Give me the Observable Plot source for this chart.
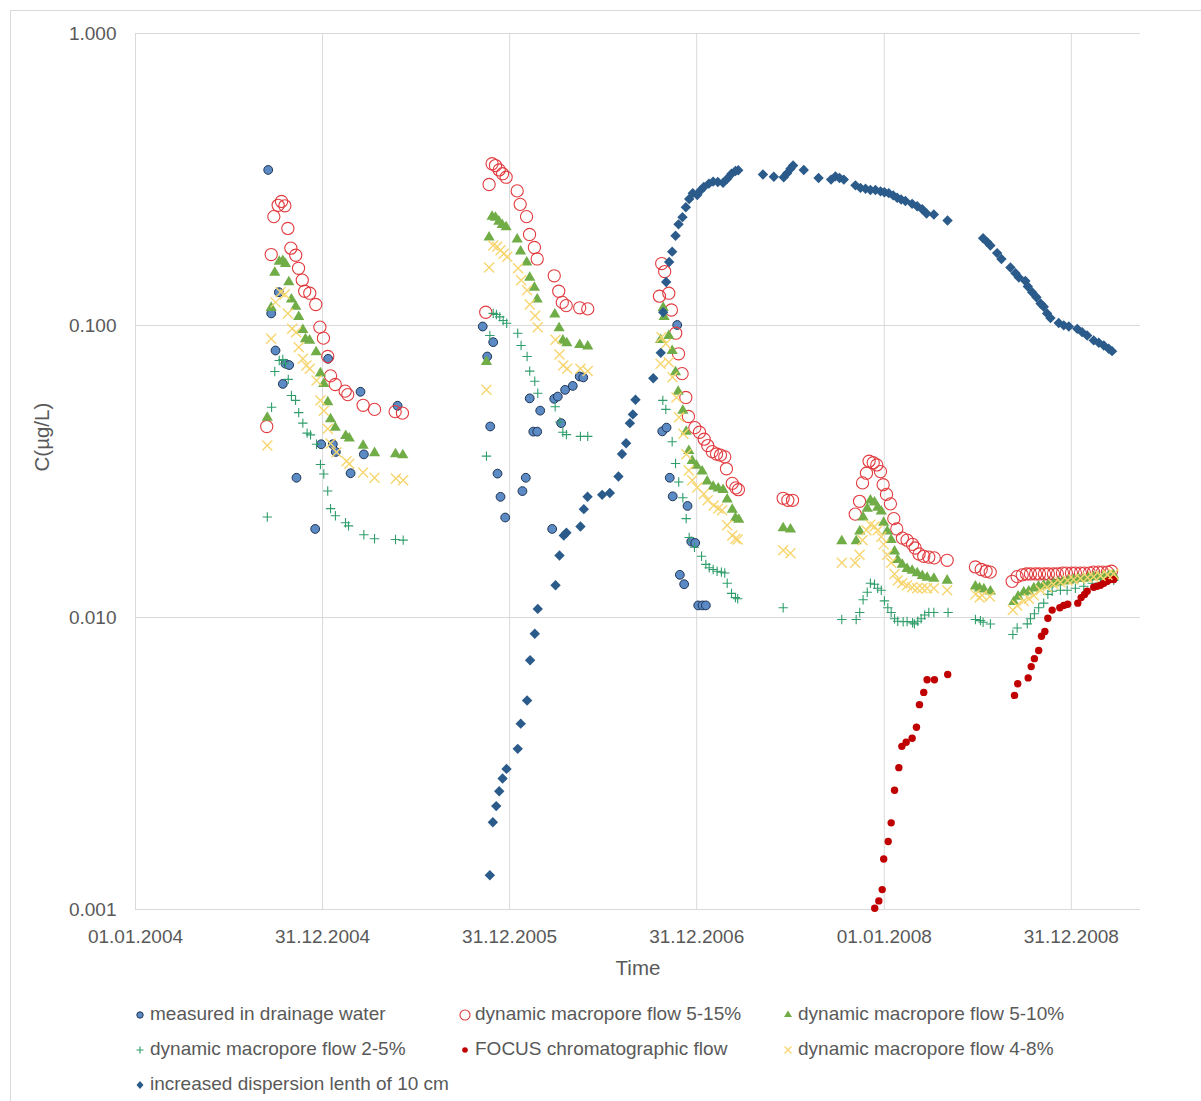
<!DOCTYPE html>
<html>
<head>
<meta charset="utf-8">
<script src="https://cdn.jsdelivr.net/npm/d3@7"></script>
<script src="https://cdn.jsdelivr.net/npm/@observablehq/plot@0.6"></script>
<style>
  body { margin: 0; background: #fff; }
  #wrap { position: relative; width: 1201px; height: 1101px; overflow: hidden; font-family: "Liberation Sans", Arial, sans-serif; color: #595959; }
  #frame { position: absolute; left: 10px; top: 10px; width: 1250px; height: 1200px; border: 1px solid #d9d9d9; box-sizing: border-box; }
  #chart { position: absolute; left: 0; top: 0; }
  .leg { position: absolute; font-size: 19px; line-height: 20px; white-space: nowrap; }
  .leg svg { position: absolute; left: -16px; top: 2px; }
</style>
</head>
<body>
<div id="wrap">
  <div id="frame"></div>
  <div id="chart"></div>
  <div id="legend"></div>
</div>
<script>
// ---- data: [decimal year, concentration µg/L] ----
const measured = [
[2004.709,0.341],[2004.725,0.110],[2004.748,0.0821],[2004.766,0.130],[2004.787,0.0631],[2004.801,0.0740],[2004.821,0.0732],[2004.860,0.0301],[2004.960,0.0201],[2004.992,0.0392],[2005.029,0.0769],[2005.054,0.0392],[2005.070,0.0369],[2005.149,0.0312],[2005.202,0.0593],[2005.220,0.0362],[2005.400,0.0531],
[2005.855,0.0992],[2005.879,0.0783],[2005.895,0.0451],[2005.911,0.0877],[2005.934,0.0311],[2005.950,0.0259],[2005.975,0.0220],[2006.067,0.0271],[2006.085,0.0301],[2006.106,0.0563],[2006.125,0.0433],[2006.146,0.0433],[2006.162,0.0511],[2006.226,0.0201],[2006.237,0.0561],[2006.256,0.0571],[2006.274,0.0463],[2006.295,0.0602],[2006.336,0.0621],[2006.373,0.0669],[2006.392,0.0664],
[2006.814,0.0434],[2006.837,0.0447],[2006.854,0.0301],[2006.870,0.0260],[2006.894,0.1004],[2006.908,0.0140],[2006.931,0.0130],[2006.949,0.0241],[2006.969,0.0182],[2006.990,0.0180],[2007.006,0.0110],[2007.029,0.0110],[2007.047,0.0110]
];
const flow515 = [
[2004.701,0.0451],[2004.725,0.175],[2004.739,0.236],[2004.762,0.258],[2004.780,0.266],[2004.798,0.257],[2004.814,0.215],[2004.830,0.184],[2004.856,0.174],[2004.871,0.157],[2004.891,0.143],[2004.904,0.131],[2004.931,0.129],[2004.963,0.118],[2004.985,0.0987],[2005.004,0.0905],[2005.027,0.0783],[2005.042,0.0672],[2005.067,0.0628],[2005.120,0.0596],[2005.134,0.0580],[2005.216,0.0533],[2005.277,0.0516],[2005.387,0.0507],[2005.426,0.0501],
[2005.871,0.111],[2005.889,0.304],[2005.905,0.358],[2005.923,0.353],[2005.943,0.341],[2005.961,0.331],[2005.980,0.322],[2006.039,0.289],[2006.055,0.260],[2006.089,0.236],[2006.105,0.205],[2006.131,0.185],[2006.146,0.169],[2006.237,0.148],[2006.261,0.131],[2006.280,0.120],[2006.301,0.117],[2006.373,0.115],[2006.416,0.114],
[2006.799,0.126],[2006.811,0.163],[2006.827,0.153],[2006.849,0.129],[2006.863,0.113],[2006.886,0.0941],[2006.901,0.0800],[2006.920,0.0684],[2006.940,0.0567],[2006.954,0.0488],[2006.988,0.0447],[2007.013,0.0431],[2007.038,0.0408],[2007.057,0.0388],[2007.081,0.0370],[2007.104,0.0363],[2007.125,0.0360],[2007.148,0.0355],[2007.157,0.0323],[2007.188,0.0288],[2007.207,0.0278],[2007.221,0.0274],
[2007.460,0.0256],[2007.485,0.0252],[2007.510,0.0252],
[2007.845,0.0226],[2007.868,0.0250],[2007.884,0.0289],[2007.905,0.0312],[2007.919,0.0343],[2007.941,0.0339],[2007.960,0.0333],[2007.980,0.0316],[2007.994,0.0285],[2008.012,0.0264],[2008.033,0.0245],[2008.051,0.0218],[2008.067,0.0201],[2008.097,0.0187],[2008.122,0.0184],[2008.151,0.0178],[2008.165,0.0173],[2008.186,0.0165],[2008.211,0.0162],[2008.238,0.0161],[2008.267,0.0160],[2008.336,0.0157],
[2008.487,0.0149],[2008.518,0.0146],[2008.544,0.0144],[2008.566,0.0143],
[2008.683,0.0133],[2008.710,0.0138],[2008.737,0.0140],[2008.760,0.0141],[2008.781,0.0141],[2008.808,0.0141],[2008.829,0.0141],[2008.856,0.0141],[2008.877,0.0141],[2008.904,0.0141],[2008.925,0.0141],[2008.952,0.0142],[2008.973,0.0142],[2009.000,0.0142],[2009.021,0.0142],[2009.048,0.0142],[2009.070,0.0142],[2009.096,0.0142],[2009.118,0.0143],[2009.144,0.0143],[2009.166,0.0143],[2009.192,0.0143],[2009.214,0.0144]
];
const flow510 = [
[2004.704,0.0488],[2004.725,0.116],[2004.744,0.153],[2004.768,0.167],[2004.787,0.168],[2004.801,0.164],[2004.819,0.142],[2004.833,0.124],[2004.856,0.117],[2004.872,0.108],[2004.894,0.0974],[2004.908,0.0905],[2004.930,0.0896],[2004.965,0.0817],[2004.988,0.0692],[2005.006,0.0636],[2005.027,0.0551],[2005.042,0.0482],[2005.067,0.0451],[2005.123,0.0422],[2005.142,0.0414],[2005.216,0.0391],[2005.277,0.0369],[2005.389,0.0366],[2005.428,0.0363],
[2005.875,0.0757],[2005.889,0.202],[2005.905,0.238],[2005.923,0.236],[2005.941,0.229],[2005.959,0.223],[2005.980,0.219],[2006.039,0.199],[2006.057,0.181],[2006.090,0.166],[2006.106,0.147],[2006.131,0.136],[2006.146,0.124],[2006.240,0.110],[2006.263,0.0987],[2006.283,0.0896],[2006.304,0.0877],[2006.373,0.0866],[2006.416,0.0856],
[2006.805,0.0900],[2006.819,0.116],[2006.824,0.108],[2006.849,0.0929],[2006.867,0.0826],[2006.885,0.0698],[2006.899,0.0599],[2006.924,0.0515],[2006.942,0.0437],[2006.956,0.0375],[2006.974,0.0347],[2006.997,0.0334],[2007.027,0.0319],[2007.054,0.0295],[2007.086,0.0283],[2007.113,0.0279],[2007.139,0.0276],[2007.161,0.0256],[2007.188,0.0236],[2007.205,0.0221],[2007.223,0.0218],
[2007.460,0.0204],[2007.499,0.0202],
[2007.773,0.0184],[2007.850,0.0184],[2007.869,0.0199],[2007.887,0.0222],[2007.909,0.0238],[2007.926,0.0254],[2007.948,0.0250],[2007.965,0.0240],[2007.984,0.0233],[2007.997,0.0213],[2008.016,0.0199],[2008.037,0.0186],[2008.055,0.0170],[2008.071,0.0159],[2008.096,0.0153],[2008.122,0.0148],[2008.149,0.0146],[2008.176,0.0143],[2008.203,0.0140],[2008.229,0.0138],[2008.265,0.0137],[2008.336,0.0135],
[2008.487,0.0129],[2008.509,0.0127],[2008.532,0.0126],[2008.567,0.0124],
[2008.692,0.0114],[2008.715,0.0119],[2008.745,0.0123],[2008.772,0.0124],[2008.799,0.0127],[2008.824,0.0129],[2008.851,0.0130],[2008.877,0.0131],[2008.904,0.0132],[2008.931,0.0133],[2008.957,0.0134],[2008.984,0.0135],[2009.011,0.0136],[2009.037,0.0137],[2009.064,0.0137],[2009.091,0.0138],[2009.118,0.0139],[2009.144,0.0139],[2009.171,0.0140],[2009.198,0.0140],[2009.225,0.0141]
];
const flow25 = [
[2004.704,0.0221],[2004.727,0.0525],[2004.744,0.0696],[2004.768,0.0759],[2004.787,0.0765],[2004.801,0.0740],[2004.816,0.0654],[2004.833,0.0576],[2004.855,0.0554],[2004.872,0.0503],[2004.894,0.0463],[2004.917,0.0428],[2004.935,0.0422],[2004.967,0.0392],[2004.988,0.0334],[2005.006,0.0310],[2005.027,0.0271],[2005.042,0.0236],[2005.068,0.0223],[2005.122,0.0211],[2005.138,0.0206],[2005.220,0.0192],[2005.277,0.0186],[2005.389,0.0185],[2005.430,0.0184],
[2005.875,0.0357],[2005.893,0.0924],[2005.911,0.110],[2005.928,0.109],[2005.946,0.107],[2005.964,0.104],[2005.983,0.1018],[2006.042,0.0941],[2006.060,0.0854],[2006.092,0.0783],[2006.106,0.0698],[2006.133,0.0644],[2006.149,0.0586],[2006.242,0.0527],[2006.267,0.0467],[2006.283,0.0431],[2006.302,0.0423],[2006.377,0.0417],[2006.416,0.0417],
[2006.817,0.0554],[2006.833,0.0516],[2006.867,0.0400],[2006.885,0.0337],[2006.902,0.0291],[2006.924,0.0257],[2006.942,0.0218],[2006.958,0.0188],[2006.986,0.0174],[2007.024,0.0162],[2007.047,0.0152],[2007.065,0.0148],[2007.086,0.0146],[2007.107,0.0144],[2007.130,0.0143],[2007.148,0.0142],[2007.161,0.0131],[2007.184,0.0121],[2007.205,0.0117],[2007.217,0.0116],
[2007.460,0.0108],
[2007.773,0.00984],[2007.850,0.00984],[2007.869,0.0104],[2007.887,0.0115],[2007.909,0.0122],[2007.926,0.0131],[2007.948,0.0130],[2007.965,0.0126],[2007.984,0.0124],[2008.001,0.0114],[2008.019,0.0108],[2008.037,0.0104],[2008.055,0.00990],[2008.072,0.00971],[2008.101,0.00967],[2008.122,0.00969],[2008.151,0.00959],[2008.161,0.00951],[2008.179,0.00971],[2008.197,0.00990],[2008.216,0.0102],[2008.238,0.0104],[2008.265,0.0104],[2008.341,0.0104],
[2008.487,0.00984],[2008.514,0.00976],[2008.528,0.00963],[2008.567,0.00950],
[2008.687,0.00875],[2008.710,0.00921],[2008.764,0.00951],[2008.781,0.00990],[2008.802,0.0103],[2008.825,0.0108],[2008.852,0.0112],[2008.874,0.0120],[2008.897,0.0123],[2008.941,0.0124],[2008.977,0.0124],[2009.021,0.0126],[2009.066,0.0128],[2009.111,0.0131],[2009.155,0.0131],[2009.199,0.0134],[2009.226,0.0134]
];
const focus = [
[2007.949,0.00101],[2007.971,0.00107],[2007.989,0.00117],[2007.997,0.00149],[2008.021,0.00171],[2008.037,0.00198],[2008.055,0.00256],[2008.078,0.00306],[2008.094,0.00362],[2008.117,0.00374],[2008.149,0.00386],[2008.172,0.00421],[2008.188,0.00503],[2008.211,0.00554],[2008.229,0.00612],[2008.268,0.00612],[2008.339,0.00638],
[2008.696,0.00541],[2008.713,0.00593],[2008.769,0.00621],[2008.785,0.00679],[2008.802,0.00723],[2008.825,0.00771],[2008.840,0.00863],[2008.858,0.00896],[2008.874,0.00994],[2008.897,0.0106],[2008.938,0.0108],[2008.959,0.0110],[2008.980,0.0111],[2009.034,0.0112],[2009.052,0.0117],[2009.070,0.0120],[2009.084,0.0123],[2009.119,0.0127],[2009.137,0.0128],[2009.155,0.0129],[2009.173,0.0131],[2009.191,0.0133],[2009.208,0.0135],[2009.226,0.0135]
];
const flow48 = [
[2004.704,0.0388],[2004.725,0.0900],[2004.748,0.120],[2004.775,0.130],[2004.798,0.128],[2004.814,0.110],[2004.837,0.0974],[2004.858,0.0949],[2004.872,0.0843],[2004.894,0.0769],[2004.913,0.0730],[2004.931,0.0711],[2004.967,0.0648],[2004.988,0.0554],[2005.006,0.0511],[2005.027,0.0443],[2005.042,0.0394],[2005.074,0.0368],[2005.127,0.0343],[2005.142,0.0336],[2005.216,0.0314],[2005.277,0.0301],[2005.391,0.0299],[2005.430,0.0295],
[2005.875,0.0602],[2005.889,0.158],[2005.911,0.188],[2005.932,0.186],[2005.950,0.181],[2005.967,0.176],[2005.986,0.172],[2006.044,0.157],[2006.060,0.143],[2006.092,0.132],[2006.106,0.118],[2006.135,0.108],[2006.149,0.0987],[2006.244,0.0894],[2006.265,0.0795],[2006.285,0.0730],[2006.306,0.0711],[2006.377,0.0711],[2006.416,0.0698],
[2006.805,0.0740],[2006.810,0.0912],[2006.833,0.0866],[2006.849,0.0749],[2006.869,0.0665],[2006.890,0.0567],[2006.904,0.0485],[2006.927,0.0426],[2006.943,0.0362],[2006.956,0.0319],[2006.974,0.0295],[2007.001,0.0279],[2007.036,0.0265],[2007.057,0.0252],[2007.089,0.0242],[2007.113,0.0236],[2007.134,0.0233],[2007.161,0.0207],[2007.188,0.0191],[2007.205,0.0186],[2007.217,0.0185],
[2007.460,0.0170],[2007.499,0.0166],
[2007.773,0.0154],[2007.845,0.0154],[2007.868,0.0164],[2007.884,0.0184],[2007.905,0.0199],[2007.926,0.0208],[2007.948,0.0205],[2007.965,0.0199],[2007.984,0.0189],[2007.997,0.0178],[2008.016,0.0164],[2008.037,0.0154],[2008.055,0.0141],[2008.072,0.0134],[2008.096,0.0131],[2008.122,0.0129],[2008.149,0.0127],[2008.176,0.0126],[2008.203,0.0126],[2008.229,0.0126],[2008.265,0.0126],[2008.336,0.0124],
[2008.487,0.0120],[2008.509,0.0117],[2008.523,0.0119],[2008.564,0.0118],
[2008.687,0.0106],[2008.710,0.0110],[2008.745,0.0114],[2008.772,0.0116],[2008.799,0.0119],[2008.835,0.0124],[2008.870,0.0127],[2008.904,0.0130],[2008.941,0.0132],[2008.979,0.0134],[2009.011,0.0135],[2009.048,0.0136],[2009.086,0.0137],[2009.118,0.0138],[2009.155,0.0139],[2009.192,0.0140],[2009.225,0.0141]
];
const dispersion = [
[2005.893,0.00131],[2005.909,0.00199],[2005.927,0.00226],[2005.943,0.00254],[2005.961,0.00281],[2005.982,0.00303],[2006.042,0.00355],[2006.058,0.00433],[2006.092,0.00520],[2006.108,0.00714],[2006.133,0.00880],[2006.149,0.0107],[2006.244,0.0129],[2006.265,0.0163],[2006.288,0.0191],[2006.302,0.0195],[2006.377,0.0205],[2006.395,0.0235],[2006.415,0.0259],[2006.493,0.0263],[2006.534,0.0267],[2006.580,0.0304],[2006.599,0.0363],[2006.621,0.0395],[2006.641,0.0463],[2006.657,0.0496],[2006.671,0.0557],[2006.766,0.0660],[2006.806,0.0806],[2006.819,0.111],[2006.835,0.141],[2006.851,0.165],[2006.867,0.179],[2006.885,0.203],[2006.901,0.222],[2006.922,0.235],[2006.940,0.254],[2006.958,0.271],[2006.977,0.284],[2007.001,0.280],[2007.018,0.290],[2007.036,0.298],[2007.063,0.306],[2007.086,0.311],[2007.111,0.310],[2007.139,0.308],[2007.161,0.318],[2007.184,0.331],[2007.205,0.338],[2007.220,0.340],
[2007.352,0.329],[2007.410,0.323],[2007.463,0.322],[2007.481,0.332],[2007.499,0.344],[2007.513,0.353],[2007.570,0.341],[2007.649,0.320],[2007.716,0.316],[2007.739,0.324],[2007.761,0.320],[2007.784,0.316],[2007.846,0.302],[2007.873,0.296],[2007.900,0.294],[2007.926,0.291],[2007.953,0.291],[2007.980,0.288],[2008.001,0.286],[2008.024,0.284],[2008.048,0.279],[2008.069,0.274],[2008.090,0.270],[2008.113,0.267],[2008.149,0.261],[2008.176,0.256],[2008.203,0.250],[2008.226,0.242],[2008.265,0.240],[2008.338,0.229],
[2008.528,0.199],[2008.550,0.193],[2008.567,0.188],[2008.603,0.177],[2008.626,0.169],[2008.674,0.158],[2008.701,0.151],[2008.719,0.146],[2008.754,0.142],[2008.767,0.136],[2008.790,0.130],[2008.813,0.125],[2008.835,0.119],[2008.852,0.116],[2008.870,0.110],[2008.888,0.106],[2008.932,0.102],[2008.959,0.1001],[2008.986,0.0992],[2009.031,0.0974],[2009.057,0.0949],[2009.084,0.0924],[2009.119,0.0889],[2009.146,0.0873],[2009.173,0.0854],[2009.199,0.0832],[2009.217,0.0817]
];

const xTickDates = ["2004-01-01","2004-12-31","2005-12-31","2006-12-31","2008-01-01","2008-12-31"];
const xTickLabels = ["01.01.2004","31.12.2004","31.12.2005","31.12.2006","01.01.2008","31.12.2008"];
const yTicks = [0.001, 0.01, 0.1, 1];
const xDomain = ["2004-01-01","2009-05-15"];

const seriesNames = ["measured in drainage water","dynamic macropore flow 5-15%","dynamic macropore flow 5-10%","dynamic macropore flow 2-5%","FOCUS chromatographic flow","dynamic macropore flow 4-8%","increased dispersion lenth of 10 cm"];
const colors = {
  measuredFill: "#5b8ac4", measuredStroke: "#1f3656",
  f515: "#e23b3f", f510: "#70ad47", f25: "#2f9e6b", focus: "#c00000", f48: "#f7d670", disp: "#2b5b8a"
};

// ---- helpers ----
const T0 = Date.UTC(2004, 0, 1);
const toDate = y => new Date(T0 + (y - 2004) * 365.25 * 86400000);
const rows = arr => arr.map(([t, c]) => ({date: toDate(t), c}));
const pd = s => new Date(s + "T00:00:00Z");
const tickDates = xTickDates.map(pd);
const labelMap = new Map(tickDates.map((d, i) => [+d, xTickLabels[i]]));

const rOf = size => Math.sqrt(size / Math.PI);
const symPlus = {draw(ctx, size) { const r = rOf(size); ctx.moveTo(-r, 0); ctx.lineTo(r, 0); ctx.moveTo(0, -r); ctx.lineTo(0, r); }};
const symTimes = {draw(ctx, size) { const r = rOf(size); ctx.moveTo(-r, -r); ctx.lineTo(r, r); ctx.moveTo(-r, r); ctx.lineTo(r, -r); }};
const symTri = {draw(ctx, size) { const r = rOf(size); ctx.moveTo(0, -r * 0.95); ctx.lineTo(r, r * 0.75); ctx.lineTo(-r, r * 0.75); ctx.closePath(); }};
const symDiamond = {draw(ctx, size) { const r = rOf(size); ctx.moveTo(0, -r); ctx.lineTo(r, 0); ctx.lineTo(0, r); ctx.lineTo(-r, 0); ctx.closePath(); }};

const font = '"Liberation Sans", Arial, sans-serif';

const chart = Plot.plot({
  width: 1201,
  height: 990,
  marginLeft: 135,
  marginRight: 61,
  marginTop: 33,
  marginBottom: 81,
  style: {fontFamily: font, fontSize: "19px", color: "#595959", background: "transparent", overflow: "visible"},
  x: {type: "utc", domain: xDomain.map(pd)},
  y: {type: "log", domain: [0.001, 1]},
  marks: [
    Plot.gridX(tickDates, {stroke: "#d9d9d9", strokeOpacity: 1, strokeWidth: 1}),
    Plot.gridY(yTicks, {stroke: "#d9d9d9", strokeOpacity: 1, strokeWidth: 1}),
    Plot.axisX(tickDates, {tickSize: 0, tickPadding: 20, tickFormat: d => labelMap.get(+d), label: null, fill: "#595959", fontSize: 19}),
    Plot.axisY(yTicks, {tickSize: 0, tickPadding: 19, tickFormat: d3.format(".3f"), label: null, fill: "#595959", fontSize: 19}),
    Plot.text(["Time"], {frameAnchor: "bottom", dy: 59, lineAnchor: "middle", fontSize: 20.5, fill: "#595959"}),
    Plot.text(["C(µg/L)"], {frameAnchor: "left", dx: -93, rotate: -90, lineAnchor: "middle", fontSize: 20.5, fill: "#595959"}),
    Plot.dot(rows(measured), {x: "date", y: "c", r: 4.4, fill: colors.measuredFill, stroke: colors.measuredStroke, strokeWidth: 1}),
    Plot.dot(rows(flow515), {x: "date", y: "c", r: 6.1, fill: "none", stroke: colors.f515, strokeWidth: 1.1}),
    Plot.dot(rows(flow510), {x: "date", y: "c", r: 5.6, symbol: symTri, fill: colors.f510, stroke: "none"}),
    Plot.dot(rows(flow25), {x: "date", y: "c", r: 4.7, symbol: symPlus, fill: "none", stroke: colors.f25, strokeWidth: 1.1}),
    Plot.dot(rows(focus), {x: "date", y: "c", r: 3.7, fill: colors.focus, stroke: "none"}),
    Plot.dot(rows(flow48), {x: "date", y: "c", r: 5, symbol: symTimes, fill: "none", stroke: colors.f48, strokeWidth: 1.4}),
    Plot.dot(rows(dispersion), {x: "date", y: "c", r: 5.2, symbol: symDiamond, fill: colors.disp, stroke: "none"})
  ]
});
document.getElementById("chart").appendChild(chart);

// ---- legend ----
const legendMarkers = [
  `<circle cx="6" cy="9" r="3.2" fill="${colors.measuredFill}" stroke="${colors.measuredStroke}" stroke-width="1"/>`,
  `<circle cx="6" cy="9" r="5" fill="none" stroke="${colors.f515}" stroke-width="1.1"/>`,
  `<path d="M6,4.5L10,11L2,11Z" fill="${colors.f510}"/>`,
  `<path d="M6,5.5V12.5M2.5,9H9.5" stroke="${colors.f25}" stroke-width="1.1" fill="none"/>`,
  `<circle cx="6" cy="9" r="2.8" fill="${colors.focus}"/>`,
  `<path d="M2.5,5.5L9.5,12.5M2.5,12.5L9.5,5.5" stroke="${colors.f48}" stroke-width="1.3" fill="none"/>`,
  `<path d="M6,5L9.5,9L6,13L2.5,9Z" fill="${colors.disp}"/>`
];
const legendPos = [[150,1004],[475,1004],[798,1004],[150,1039],[475,1039],[798,1039],[150,1074]];
const legend = document.getElementById("legend");
seriesNames.forEach((name, i) => {
  const el = document.createElement("div");
  el.className = "leg";
  el.style.left = legendPos[i][0] + "px";
  el.style.top = legendPos[i][1] + "px";
  el.innerHTML = `<svg width="12" height="18" viewBox="0 0 12 18">${legendMarkers[i]}</svg>${name}`;
  legend.appendChild(el);
});
</script>
</body>
</html>
